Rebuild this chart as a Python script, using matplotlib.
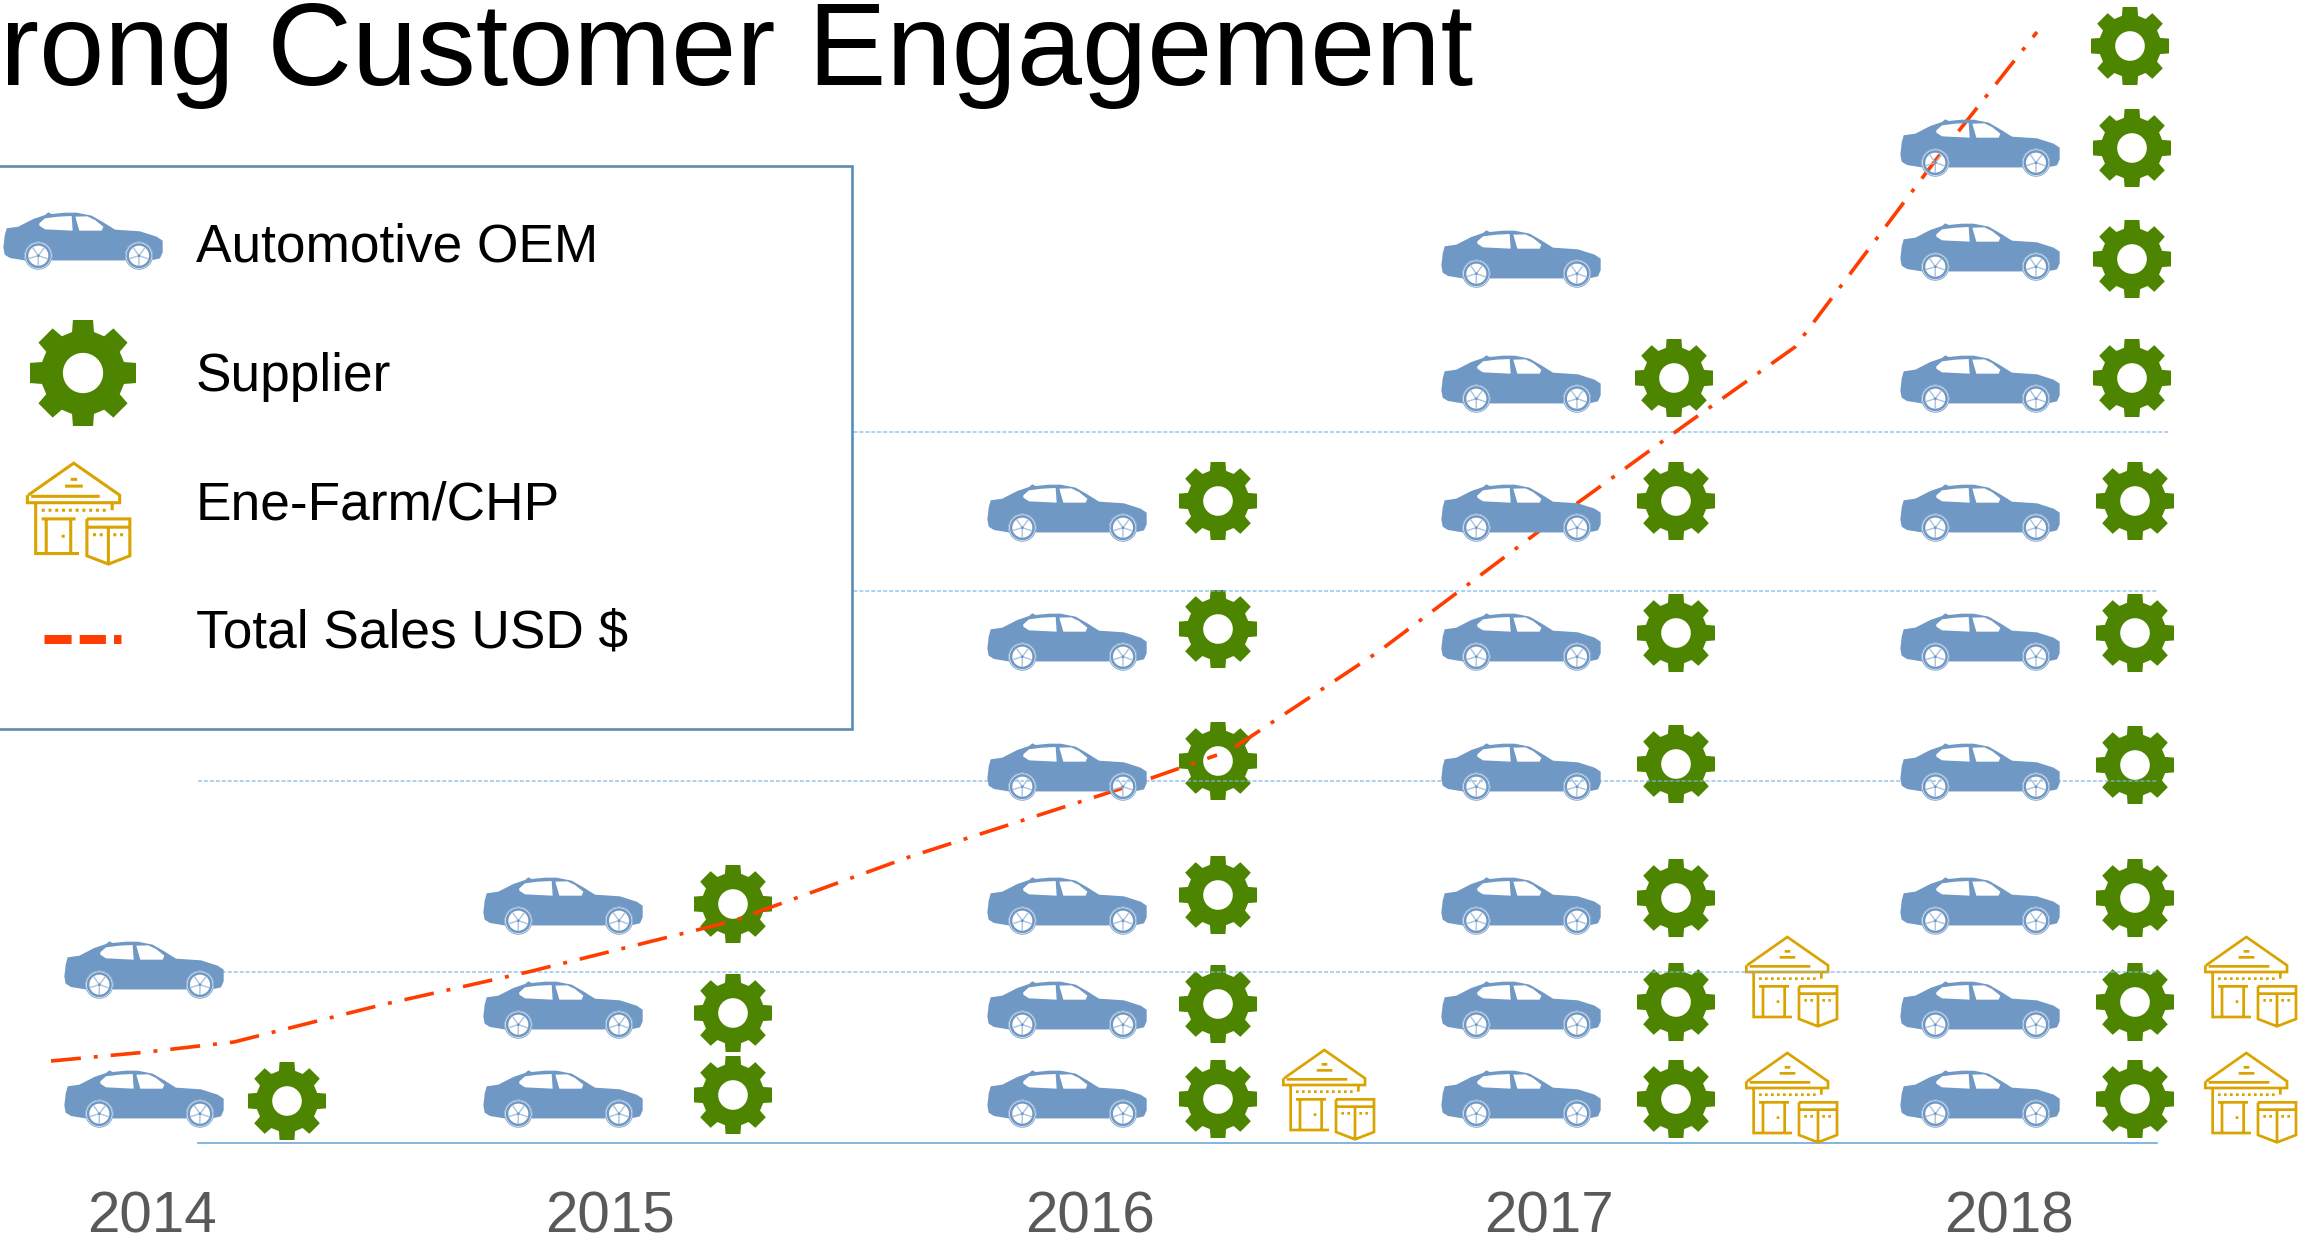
import numpy as np
import matplotlib
matplotlib.use("Agg")
import matplotlib.pyplot as plt
from matplotlib.path import Path
from matplotlib.patches import PathPatch, Rectangle
from matplotlib.transforms import Affine2D

plt.rcParams['font.family'] = ['Liberation Sans', 'DejaVu Sans']

# ---------- data (x: horizontal position, y: height above the baseline) ----------
years = ['2014', '2015', '2016', '2017', '2018']
year_x = [152, 610, 1090, 1549, 2009]

car_x = [144, 563, 1067, 1521, 1980]
car_y = [
    [44, 173],
    [44, 133, 237],
    [44, 133, 237, 371, 501, 630],
    [44, 133, 237, 371, 501, 630, 759, 884],
    [44, 133, 237, 371, 501, 630, 759, 891, 995],
]
gear_x = [
    [287],
    [733, 733, 733],
    [1218, 1218, 1218, 1218, 1218, 1218],
    [1676, 1676, 1676, 1676, 1676, 1676, 1674],
    [2135, 2135, 2135, 2135, 2135, 2135, 2132, 2132, 2132, 2130],
]
gear_y = [
    [42],
    [48, 130, 239],
    [44, 139, 248, 382, 514, 642],
    [44, 141, 245, 379, 510, 642, 765],
    [44, 141, 245, 378, 510, 642, 765, 884, 995, 1097],
]
house_x = [1329, 1792, 2251]
house_y = [[48], [45, 161], [45, 161]]

sales_x_early = [51, 147, 234, 381, 528, 733, 909, 1126, 1217]
sales_y_early = [82, 91, 101, 138, 171, 222, 286, 356, 388]
sales_x_late = [1235, 1378, 1554, 1685, 1795, 1935, 2037]
sales_y_late = [396, 491, 623, 718, 796, 982, 1111]

grid_levels = [171, 362, 552, 711]
legend_labels = ['Automotive OEM', 'Supplier', 'Ene-Farm/CHP', 'Total Sales USD $']
title = 'rong Customer Engagement'

BLUE = '#7098C4'
GREEN = '#4E8500'
GOLD = '#D9A300'
RED = '#FF3D00'


# ---------- icon shapes (local units, y pointing down before conversion) ----------
def area(pts):
    p = np.asarray(pts, float)
    x, y = p[:, 0], p[:, 1]
    return 0.5 * np.sum(x * np.roll(y, -1) - np.roll(x, -1) * y)


def compound(outer, holes=()):
    verts, codes = [], []
    sign = area(outer) > 0
    for i, ring in enumerate([outer] + list(holes)):
        ring = list(ring)
        if i > 0 and (area(ring) > 0) == sign:
            ring = ring[::-1]
        verts += ring + [ring[0]]
        codes += [Path.MOVETO] + [Path.LINETO] * (len(ring) - 1) + [Path.CLOSEPOLY]
    return Path(verts, codes)


def ring_pts(cx, cy, r, n=48):
    t = np.linspace(0, 2 * np.pi, n, endpoint=False)
    return [(cx + r * np.cos(a), cy + r * np.sin(a)) for a in t]


def arch(cx, cy, r, a0=-20, a1=200, n=24):
    # arc over the top of a wheel, y pointing down
    return [(cx + r * np.cos(np.radians(a)), cy - r * np.sin(np.radians(a)))
            for a in np.linspace(a0, a1, n)]


CAR_SCALE = 1 / 3
CAR_C = (249, 181)
WHEELS = [(115, 225), (417, 225)]
car_outline = ([(12, 185), (14, 165), (20, 143), (55, 138), (100, 115), (135, 103), (145, 95), (155, 100),
                (195, 96), (230, 96), (275, 105), (310, 125), (345, 147), (420, 152), (470, 168), (488, 180),
                (488, 215), (480, 233), (458, 238)]
               + arch(417, 225, 42)
               + arch(115, 225, 42)
               + [(30, 232), (14, 222), (10, 200)])
win1 = [(118, 128), (135, 113), (175, 108), (215, 106), (218, 150), (135, 146), (118, 135)]
win2 = [(226, 108), (262, 107), (285, 118), (310, 138), (305, 150), (238, 150)]


def to_local(p, c, s):
    return p.transformed(Affine2D().translate(-c[0], -c[1]).scale(s, -s))


def gear_path():
    pts = []
    n = 8
    tooth = [(0.773, -0.207), (1.0, -0.19), (1.0, 0.19), (0.773, 0.207)]
    for k in range(n):
        a = 2 * np.pi * k / n
        ca, sa = np.cos(a), np.sin(a)
        for x, y in tooth:
            pts.append((x * ca - y * sa, x * sa + y * ca))
    return compound(pts, [ring_pts(0, 0, 0.38)])


def house_path():
    segs = [
        [(132, 115), (253, 30), (375, 115), (375, 135), (130, 135), (130, 115)],
        [(140, 118), (322, 118)],
        [(245, 73), (262, 73)], [(230, 91), (277, 91)],
        [(152, 135), (152, 270), (267, 270)],
        [(355, 137), (355, 155)],
        [(168, 178), (258, 178)], [(180, 178), (180, 268)], [(245, 178), (245, 268)],
        [(288, 178), (402, 178), (402, 276), (345, 298), (288, 276), (288, 178)],
        [(288, 200), (402, 200)], [(345, 200), (345, 298)],
    ]
    for x in range(168, 335, 18):
        segs.append([(x, 155), (x + 8, 155)])
    for x in (304, 322, 358, 376):
        segs.append([(x, 220), (x + 8, 220)])
    segs.append([(221, 224), (229, 224)])
    v, c = [], []
    for s in segs:
        v += s
        c += [Path.MOVETO] + [Path.LINETO] * (len(s) - 1)
    return to_local(Path(v, c), (267, 165), 1 / 3)


GEAR = gear_path()
HOUSE = house_path()
CAR_BODY = to_local(compound(car_outline, [win1, win2]), CAR_C, CAR_SCALE)
WHEEL_RIMS = [to_local(compound(ring_pts(wx, wy, 42), [ring_pts(wx, wy, 30)]), CAR_C, CAR_SCALE)
              for wx, wy in WHEELS]
WHEEL_LOCAL = [((wx - CAR_C[0]) * CAR_SCALE, -(wy - CAR_C[1]) * CAR_SCALE) for wx, wy in WHEELS]

# ---------- figure ----------
fig = plt.figure(figsize=(22.98, 12.41), dpi=100, facecolor='white')
ax = fig.add_axes([0, 98 / 1241, 1, 1143 / 1241])
ax.set_xlim(0, 2298)
ax.set_ylim(0, 1143)
ax.patch.set_visible(False)


def add(path, x, y, s=1.0, z=3, **kw):
    tr = Affine2D().scale(s).translate(x, y)
    ax.add_patch(PathPatch(path.transformed(tr), clip_on=False, zorder=z, **kw))


def draw_car(x, y):
    add(CAR_BODY, x, y, fc=BLUE, ec='none', z=4)
    for rim in WHEEL_RIMS:
        add(rim, x, y, fc=BLUE, ec='none', z=4)
    for lx, ly in WHEEL_LOCAL:
        ax.add_patch(plt.Circle((x + lx, y + ly), 12.9, fc='none', ec='#DCE6F1', lw=0.6,
                                zorder=4.1, clip_on=False))
        for k in range(5):
            a = 2 * np.pi * k / 5 + 0.3 + np.pi / 5
            ax.plot([x + lx + 2 * np.cos(a), x + lx + 9.5 * np.cos(a)],
                    [y + ly + 2 * np.sin(a), y + ly + 9.5 * np.sin(a)],
                    color='#A9C3DF', lw=1.0, zorder=4.1, clip_on=False)
        ax.add_patch(plt.Circle((x + lx, y + ly), 1.5, fc=BLUE, ec='none', zorder=4.1, clip_on=False))


def draw_gear(x, y, r=39.0, z=3.5):
    add(GEAR, x, y, s=r, fc=GREEN, ec='none', z=z)


def draw_house(x, y, s=1.0):
    add(HOUSE, x, y, s=s, fc='none', ec=GOLD, lw=1.95 * s, z=3.5, joinstyle='miter', capstyle='butt')


# gridlines and baseline (drawn over the gears, as in the source)
ax.hlines(grid_levels, 198, [2157, 2157, 2157, 2170], color='#7AB8EC', lw=1.1, alpha=0.8,
          linestyles=(0, (2.6, 1.3)), zorder=3.6)
for side in ('top', 'left', 'right'):
    ax.spines[side].set_visible(False)
ax.spines['bottom'].set_bounds(198, 2157)
ax.spines['bottom'].set_color('#6FA8D8')
ax.spines['bottom'].set_linewidth(1.2)

ax.set_yticks([])
ax.set_xticks(year_x, years)
ax.tick_params(axis='x', length=0, pad=34, labelsize=42, labelcolor='#595959')

# icons
for x, ys in zip(car_x, car_y):
    for y in ys:
        draw_car(x, y)
for xs, ys in zip(gear_x, gear_y):
    for x, y in zip(xs, ys):
        draw_gear(x, y)
for x, ys in zip(house_x, house_y):
    for y in ys:
        draw_house(x, y)

# sales line: above the gears, below the cars
sales_style = dict(color=RED, lw=2.6, linestyle=(0, (8.3, 3.6, 1.1, 3.6)), zorder=3.8, clip_on=False)
ax.plot(sales_x_early, sales_y_early, **sales_style)
ax.plot(sales_x_late, sales_y_late, **sales_style)

# title
ax.text(0, 1058, title, fontsize=84.4, color='black', va='baseline', ha='left', clip_on=False)

# legend
ax.add_patch(Rectangle((-10, 414), 862, 563, fc='white', ec='#5B8DB5', lw=1.9, zorder=3.7))
legend_y = [881, 751.5, 624, 495.5]
for lab, ly in zip(legend_labels, legend_y):
    ax.text(196, ly, lab, fontsize=38.3, color='black', va='baseline', ha='left', zorder=6)
draw_car(83, 902)
draw_gear(83, 770, r=53, z=5)
add(HOUSE, 79, 629, s=1.13, fc='none', ec=GOLD, lw=2.2, z=5, joinstyle='miter', capstyle='butt')
ax.plot([44, 121], [504, 504], color=RED, lw=6.5, linestyle=(0, (3, 0.9, 2.9, 0.9, 0.9, 0.9)), zorder=6)

fig.savefig('out.png', dpi=100)
